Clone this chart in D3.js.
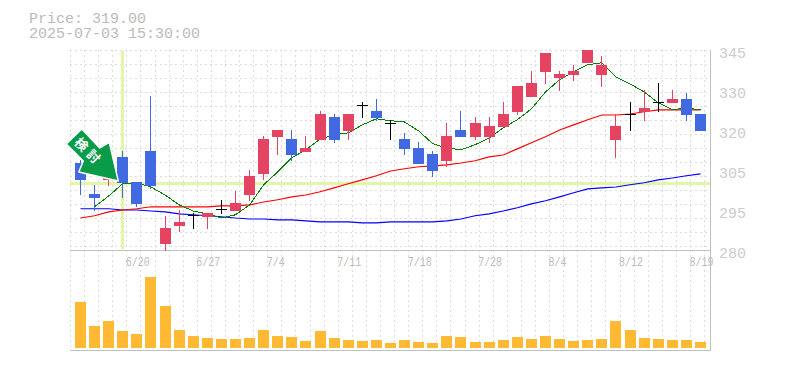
<!DOCTYPE html>
<html>
<head>
<meta charset="utf-8">
<script src="https://cdn.jsdelivr.net/npm/d3@7.9.0/dist/d3.min.js"></script>
<style>
  body { margin: 0; background: #fff; }
  svg { display: block; }
  text { font-family: "Liberation Mono", monospace; }
</style>
</head>
<body>
<div id="chart"></div>
<script>
const dates = ['6/16','6/17','6/18','6/19','6/20','6/23','6/24','6/25','6/26','6/27','6/30','7/1','7/2','7/3','7/4',
  '7/7','7/8','7/9','7/10','7/11','7/14','7/15','7/16','7/17','7/18','7/22','7/23','7/24','7/25','7/28',
  '7/29','7/30','7/31','8/1','8/4','8/5','8/6','8/7','8/8','8/12','8/13','8/14','8/15','8/18','8/19'];
const dateLabels = ['6/20','6/27','7/4','7/11','7/18','7/28','8/4','8/12','8/19'];

const opens = [310.6,300.9,305.3,312.5,304.7,314.4,285.3,290.9,294.4,293.8,296.3,295.6,300.6,307.2,318.8,
  318.1,314.1,317.8,325,320.6,328.8,326.9,323.1,318.1,315.3,313.4,311.3,320.9,318.8,318.8,
  321.9,326.6,331.3,339.1,337.2,338.1,341.9,338.1,317.8,325.9,326.6,329.7,329.4,330.6,325.9];
const highs = [311.6,303.8,311.6,314.4,304.7,331.6,294.1,295.9,295,295,299.1,301.9,308.4,319.1,320.9,
  320.9,319.1,326.9,325.9,325.9,329.7,330.6,324.1,320,317.2,314.4,323.1,326.9,325,325,
  329.7,334.7,339.4,345,339.4,341.3,345.9,344.1,325.9,329.7,333.4,335.6,333.4,332.5,325.9];
const lows = [300.6,295.6,303.4,299.7,296.9,302.5,283.1,289.1,290,290,294.7,295.6,298.8,305.3,313.1,
  311.3,314.1,317.8,316.9,317.8,324.7,323.8,317.8,313.1,310.3,306.3,309.4,318.8,317.8,316.9,
  321.9,325.6,331.3,335.3,333.1,336.3,341.9,334.4,312.2,320.6,323.8,326.6,329.4,323.8,320.6];
const closes = [305.3,299.7,309.4,304.4,297.8,303.4,290.3,292.2,294.4,295,296.3,298.1,306.6,318.1,320.9,
  313.1,315.3,325.9,317.8,325.9,328.8,324.7,323.1,315,310.3,308.1,319.1,318.8,323.1,322.2,
  325.9,334.7,335.6,345,338.4,339.4,345.9,341.3,322.2,325.9,327.8,329.7,330.6,325.6,320.6];

const ma5 = [null,296.9,300.3,304.1,304.4,303.1,300.6,297.5,295.6,294.7,293.4,294.4,297.5,303.8,307.8,
  312.2,314.7,318.1,319.4,320,322.5,324.4,323.8,323.4,320.6,316.6,315.3,314.7,316.3,318.4,
  321.6,324.1,327.5,332.8,336.6,339.1,341.3,341.9,337.5,335.3,332.8,329.4,327.2,327.8,327.2];
const ma25 = [293.4,294.1,295.3,295.9,296.3,296.9,296.9,296.9,296.9,296.9,297.2,297.2,297.5,298.4,299.1,
  300,300.6,301.6,302.8,304.1,305.3,306.6,308.1,308.8,309.4,309.7,310,310.6,311.3,312.5,
  313.1,315,316.9,318.8,320.9,322.5,324.1,325.6,325.6,325.9,326.6,327.2,327.2,327.2,327.2];
const ma75 = [296.3,296.3,296.3,295.9,295.9,295.6,295.3,294.7,294.4,294.1,293.8,293.4,293.1,293.1,292.8,
  292.8,292.5,292.2,292.2,292.2,291.9,291.9,292.2,292.2,292.2,292.2,292.5,293.1,294.1,294.7,
  295.6,296.6,297.8,298.8,300,301.3,302.5,302.8,303.1,303.8,304.4,305.3,305.9,306.6,307.2];

const volumes = [46,22,27,17,14,71,42,18,12,10,9,9,10,18,12,11,7,17,10,8,7,8,5,
  8,6,5,12,11,6,6,8,11,9,12,9,7,8,9,27,18,10,9,8,8,6];

const priceTicks = [345,332.5,320,307.5,295,282.5];
const priceLabels = ['345','330','320','305','295','280'];
const cursorDate = '6/19';
const cursorPrice = 304.2;
const infoLines = ['Price: 319.00','2025-07-03 15:30:00'];

const width = 785, height = 370;
const red = '#e44462', blue = '#4169e1', gridColor = '#ddd', frameColor = '#c0c0c0', hilite = '#e3f6a8';

const svg = d3.select('#chart').append('svg').attr('width', width).attr('height', height);

const x = d3.scalePoint().domain(dates).range([80.5, 700.5]);
const y = d3.scaleLinear().domain([345.9, 283.4]).range([50, 250]);
const yVol = d3.scaleLinear().domain([0, 71]).range([348, 277]);

// grid, one dashed line every candle step
const gridX = dates.map((d) => x(d) - 10).concat(x(dates[44]) + 4);
const gridY = d3.range(15).map((i) => 50 + 14 * i);
const grid = svg.append('g').attr('stroke', gridColor).attr('stroke-dasharray', '2 3').attr('shape-rendering', 'crispEdges');
grid.selectAll('.v').data(gridX).join('line').attr('class', 'v')
  .attr('x1', (d) => Math.floor(d) + 0.5).attr('x2', (d) => Math.floor(d) + 0.5)
  .attr('y1', 50).attr('y2', 350);
grid.selectAll('.h').data(gridY).join('line').attr('class', 'h')
  .attr('x1', 70).attr('x2', 710)
  .attr('y1', (d) => d + 0.5).attr('y2', (d) => d + 0.5);

// frame
const frame = svg.append('g').attr('stroke', frameColor).attr('shape-rendering', 'crispEdges');
frame.append('line').attr('x1', 70).attr('x2', 711).attr('y1', 250.5).attr('y2', 250.5);
frame.append('line').attr('x1', 70).attr('x2', 711).attr('y1', 350.5).attr('y2', 350.5).attr('stroke-width', 1.5);
frame.append('line').attr('x1', 710.5).attr('x2', 710.5).attr('y1', 50).attr('y2', 351);

// crosshair
svg.append('rect').attr('x', 70).attr('width', 640).attr('y', Math.round(y(cursorPrice)) - 1).attr('height', 3).attr('fill', hilite);
svg.append('rect').attr('x', Math.floor(x(cursorDate)) - 1).attr('width', 3).attr('y', 51).attr('height', 198).attr('fill', hilite);

// volume
svg.append('g').selectAll('rect').data(volumes).join('rect')
  .attr('x', (d, i) => Math.round(x(dates[i]) - 5.5))
  .attr('width', 11)
  .attr('y', (d) => yVol(d))
  .attr('height', (d) => yVol(0) - yVol(d))
  .attr('fill', '#ffb933');

// moving averages go under the candles
const lineGen = d3.line().defined((d) => d != null).x((d, i) => x(dates[i])).y((d) => y(d));
svg.append('path').attr('d', lineGen(ma75)).attr('fill', 'none').attr('stroke', '#0000ff').attr('stroke-width', 1.15);
svg.append('path').attr('d', lineGen(ma25)).attr('fill', 'none').attr('stroke', '#ff0000').attr('stroke-width', 1.15);
svg.append('path').attr('d', lineGen(ma5)).attr('fill', 'none').attr('stroke', '#008000').attr('stroke-width', 1).attr('shape-rendering', 'crispEdges');

// candles
const color = (i) => closes[i] > opens[i] ? red : closes[i] < opens[i] ? blue : '#000';
const candles = svg.append('g').attr('shape-rendering', 'crispEdges');
candles.selectAll('.wick').data(dates).join('line').attr('class', 'wick')
  .attr('x1', (d) => Math.floor(x(d)) + 0.5).attr('x2', (d) => Math.floor(x(d)) + 0.5)
  .attr('y1', (d, i) => y(highs[i])).attr('y2', (d, i) => y(lows[i]))
  .attr('stroke', (d, i) => color(i));
candles.selectAll('.body').data(dates).join('rect').attr('class', 'body')
  .attr('x', (d) => Math.round(x(d) - 5.5))
  .attr('width', 11)
  .attr('y', (d, i) => Math.round(y(Math.max(opens[i], closes[i]))))
  .attr('height', (d, i) => Math.max(1, Math.round(y(Math.min(opens[i], closes[i]))) - Math.round(y(Math.max(opens[i], closes[i])))))
  .attr('fill', (d, i) => color(i));

// signal arrow, tip sits on the cursor candle
const arrowShape = [[-52,-37],[-36.5,-52],[-18.5,-33],[-9,-38.5],[0,0],[-39.5,-9],[-35,-20]];
const tip = [x(cursorDate) - 4.5, y(cursorPrice) - 2.5];
const arrow = svg.append('g').attr('transform', `translate(${tip[0]},${tip[1]})`);
arrow.append('path').attr('d', d3.line()(arrowShape) + 'Z')
  .attr('fill', '#089b48').attr('stroke', '#fff').attr('stroke-width', 1.5).attr('stroke-linejoin', 'round');
arrow.append('text').attr('transform', 'translate(-29.5,-29) rotate(45)')
  .attr('text-anchor', 'middle').attr('dy', '0.36em')
  .attr('fill', '#fff').attr('font-size', 13).attr('font-weight', 'bold')
  .attr('letter-spacing', 4).style('font-family', '"Noto Sans CJK JP"')
  .text('検討');

// price labels
const yAxis = d3.axisRight(y).tickValues(priceTicks).tickSize(0).tickPadding(9)
  .tickFormat((d, i) => priceLabels[i]);
const yg = svg.append('g').attr('transform', 'translate(710,0)').call(yAxis);
yg.select('.domain').remove();
yg.selectAll('text').attr('fill', '#ccc').attr('font-size', 15).style('font-family', '"Liberation Mono", monospace');

// date labels start at a fixed offset left of the candle
svg.append('g').selectAll('text').data(dateLabels).join('text')
  .attr('x', (d) => x(d) - 11)
  .attr('y', 266)
  .attr('fill', '#bbb')
  .attr('font-size', 12)
  .attr('textLength', (d) => d.length * 6)
  .attr('lengthAdjust', 'spacingAndGlyphs')
  .text((d) => d);

// info text
svg.append('g').selectAll('text').data(infoLines).join('text')
  .attr('x', 29).attr('y', (d, i) => 23 + i * 15)
  .attr('fill', '#bbb').attr('font-size', 15)
  .text((d) => d);
</script>
</body>
</html>
